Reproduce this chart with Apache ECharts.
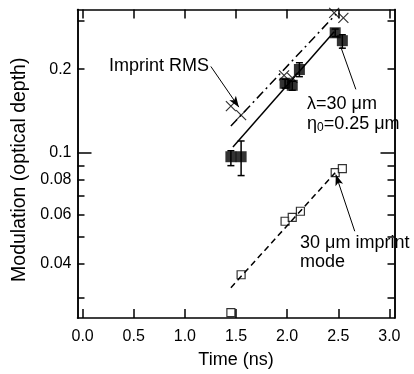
<!DOCTYPE html>
<html><head><meta charset="utf-8">
<script src="https://cdn.jsdelivr.net/npm/echarts@6/dist/echarts.min.js"></script>
<style>html,body{margin:0;padding:0;background:#fff}#c{width:414px;height:374px}</style>
</head><body><div id="c"></div>
<script>
// tick values
const xTicks = [0, 0.5, 1.0, 1.5, 2.0, 2.5, 3.0];
const yLabelTicks = [0.04, 0.06, 0.08, 0.1, 0.2];
const yMinorTicks = [0.03, 0.04, 0.05, 0.06, 0.07, 0.08, 0.09, 0.2, 0.3];
const yMajorTicks = [0.1];

// measured modulation (filled squares with error bars)
const measTime = [1.45, 1.55, 1.98, 2.05, 2.12, 2.47, 2.54];
const measMod  = [0.0968, 0.0968, 0.178, 0.175, 0.1995, 0.2704, 0.2533];
const measLow  = [0.0899, 0.0828, 0.171, 0.168, 0.188, 0.262, 0.238];
const measHigh = [0.1017, 0.1103, 0.184, 0.181, 0.211, 0.279, 0.266];

// imprint RMS (crosses)
const rmsTime = [1.45, 1.55, 1.97, 2.05, 2.46, 2.55];
const rmsMod  = [0.1472, 0.1367, 0.19, 0.186, 0.3188, 0.306];

// 30 um imprint mode (open squares)
const modeTime = [1.45, 1.55, 1.98, 2.05, 2.13, 2.47, 2.54];
const modeMod  = [0.0266, 0.0364, 0.0567, 0.0586, 0.0616, 0.0848, 0.0877];

// fit lines
const fitMeasTime = [1.47, 2.46];
const fitMeasMod  = [0.105, 0.2727];
const fitRmsTime  = [1.45, 2.48];
const fitRmsMod   = [0.1248, 0.3162];
const fitModeTime = [1.45, 2.47];
const fitModeMod  = [0.0327, 0.0848];

// annotation arrows [x1,y1,x2,y2]
const arrowRms  = [1.254, 0.2046, 1.528, 0.146];
const arrowMeas = [2.672, 0.1692, 2.524, 0.241];
const arrowMode = [2.661, 0.0522, 2.476, 0.0835];

const pairs = (xs, ys) => xs.map((x, i) => [x, ys[i]]);
const FONT = '"Liberation Sans", Arial, Helvetica, sans-serif';
const XMIN = -0.05, XMAX = 3.05, YMIN = 0.02543, YMAX = 0.328;
const black = '#000';

function xAx(pos, showLabel) {
  return {
    type: 'value', position: pos, min: XMIN, max: XMAX,
    axisLine: { show: true, onZero: false, lineStyle: { color: black, width: 1.5 } },
    axisTick: { show: true, inside: true, length: 9, customValues: xTicks, lineStyle: { color: black, width: 1.5 } },
    axisLabel: { show: showLabel, customValues: xTicks, margin: 11, color: black, fontSize: 16, fontFamily: FONT,
      formatter: v => (+v).toFixed(1) },
    splitLine: { show: false },
    name: showLabel ? 'Time (ns)' : '', nameLocation: 'middle', nameGap: 33,
    nameTextStyle: { color: black, fontSize: 18, fontFamily: FONT }
  };
}
function yAx(pos, ticks, len, showLabel, showName) {
  return {
    type: 'log', logBase: 10, position: pos, min: YMIN, max: YMAX,
    axisLine: { show: true, onZero: false, lineStyle: { color: black, width: 1.5 } },
    axisTick: { show: true, inside: true, length: len, customValues: ticks, lineStyle: { color: black, width: 1.5 } },
    axisLabel: { show: showLabel, customValues: yLabelTicks, margin: 6, color: black, fontSize: 16, fontFamily: FONT,
      formatter: v => String(Math.round(v * 100) / 100) },
    splitLine: { show: false }, minorTick: { show: false }, minorSplitLine: { show: false },
    name: showName ? 'Modulation (optical depth)' : '', nameLocation: 'middle', nameGap: 48, nameRotate: 90,
    nameTextStyle: { color: black, fontSize: 19.5, fontFamily: FONT, padding: [0, 12, 0, 0] }
  };
}

function arrowLine(a, head) {
  return {
    type: 'line', data: [], silent: true,
    markLine: {
      silent: true, animation: false,
      symbol: head ? ['none', 'arrow'] : ['none', 'none'], symbolSize: [6, 11],
      label: { show: false },
      lineStyle: { color: black, width: 1, type: 'solid' },
      data: [[{ coord: [a[0], a[1]] }, { coord: [a[2], a[3]] }]]
    }
  };
}

const chart = echarts.init(document.getElementById('c'), null, { renderer: 'canvas' });
chart.setOption({
  animation: false,
  backgroundColor: '#fff',
  grid: { left: 77.5, right: 19.5, top: 9.5, bottom: 53.5 },
  xAxis: [xAx('bottom', true), xAx('top', false)],
  yAxis: [
    yAx('left', yMinorTicks, 7, true, true),
    yAx('left', yMajorTicks, 14, false, false),
    yAx('right', yMinorTicks, 7, false, false),
    yAx('right', yMajorTicks, 14, false, false)
  ],
  series: [
    { type: 'line', data: pairs(fitMeasTime, fitMeasMod), showSymbol: false, symbol: 'none',
      lineStyle: { color: black, width: 1.5, type: 'solid' } },
    { type: 'line', data: pairs(fitRmsTime, fitRmsMod), showSymbol: false, symbol: 'none',
      lineStyle: { color: black, width: 1.5, type: [9, 4, 2, 4] } },
    { type: 'line', data: pairs(fitModeTime, fitModeMod), showSymbol: false, symbol: 'none',
      lineStyle: { color: black, width: 1.5, type: [6, 4] } },
    {
      type: 'custom',
      encode: { x: 0, y: [1, 2] },
      data: measTime.map((t, i) => [t, measLow[i], measHigh[i]]),
      renderItem: (params, api) => {
        const x = api.value(0), lo = api.value(1), hi = api.value(2);
        const p1 = api.coord([x, lo]), p2 = api.coord([x, hi]);
        const w = 3.5, st = { stroke: black, lineWidth: 1.5 };
        return { type: 'group', children: [
          { type: 'line', shape: { x1: p1[0], y1: p1[1], x2: p2[0], y2: p2[1] }, style: st },
          { type: 'line', shape: { x1: p1[0] - w, y1: p1[1], x2: p1[0] + w, y2: p1[1] }, style: st },
          { type: 'line', shape: { x1: p2[0] - w, y1: p2[1], x2: p2[0] + w, y2: p2[1] }, style: st }
        ] };
      }
    },
    { type: 'scatter', data: pairs(measTime, measMod), symbol: 'rect', symbolSize: 11,
      itemStyle: { color: black } },
    { type: 'scatter', data: pairs(rmsTime, rmsMod), symbol: 'path://M0,0L10,10M10,0L0,10', symbolSize: 10,
      itemStyle: { color: 'none', borderColor: black, borderWidth: 1.2 } },
    { type: 'scatter', data: pairs(modeTime, modeMod), symbol: 'rect', symbolSize: 8,
      itemStyle: { color: '#fff', borderColor: black, borderWidth: 1.2 } },
    arrowLine(arrowRms, true),
    arrowLine(arrowMeas, false),
    arrowLine(arrowMode, true)
  ],
  graphic: [
    { type: 'text', x: 109, y: 66, style: { text: 'Imprint RMS', font: '18px ' + FONT, fill: black, verticalAlign: 'middle' } },
    { type: 'text', x: 307, y: 104, style: { text: 'λ=30 μm', font: '18px ' + FONT, fill: black, verticalAlign: 'middle' } },
    { type: 'text', x: 307, y: 124, style: {
        text: '{a|η}{s|0}{a|=0.25 μm}', verticalAlign: 'middle', fill: black,
        rich: { a: { fontSize: 18, fontFamily: FONT, fill: black, color: black },
                s: { fontSize: 12, fontFamily: FONT, fill: black, color: black, padding: [8, 0, 0, 0] } } } },
    { type: 'text', x: 300, y: 243, style: { text: '30 μm imprint', font: '18px ' + FONT, fill: black, verticalAlign: 'middle' } },
    { type: 'text', x: 300, y: 262, style: { text: 'mode', font: '18px ' + FONT, fill: black, verticalAlign: 'middle' } }
  ]
});
</script>
</body></html>
